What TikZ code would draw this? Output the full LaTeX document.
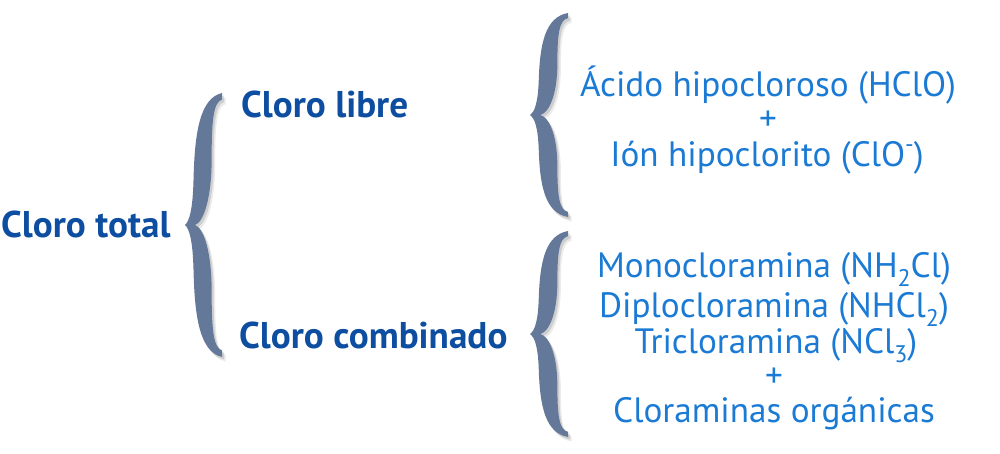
\documentclass[tikz,border=0pt]{standalone}
\usepackage{fontspec}
\setmainfont{PT Sans}
\definecolor{darkblue}{HTML}{0D4EA0}
\definecolor{lightblue}{HTML}{1A7AD4}
\definecolor{bracecol}{HTML}{64799A}
\newcommand\chemsub[1]{\raisebox{-0.26em}{\fontsize{24}{24}\selectfont #1}}
\newcommand\chemsup[1]{\raisebox{0.42em}{\fontsize{24}{24}\selectfont #1}}
\newcommand\bracehalf{(0,0) .. controls (0.12,-0.03) and (0.21,-0.12) .. (0.23,-0.34) .. controls (0.26,-0.7) and (0.4,-0.96) .. (1,-1) -- (1,-0.95) .. controls (0.77,-0.93) and (0.72,-0.8) .. (0.72,-0.5) .. controls (0.72,-0.2) and (0.5,-0.02) .. (0.27,0) -- cycle}
\newcommand\mybrace[4]{%
 \foreach \sy in {1,-1}{%
  \begin{scope}[shift={(#1+3.5,#2+4.5)},xscale=#3,yscale=\sy*#4]
   \fill[black,opacity=0.08] \bracehalf;
  \end{scope}
  \begin{scope}[shift={(#1+2,#2+2.5)},xscale=#3,yscale=\sy*#4]
   \fill[black,opacity=0.12] \bracehalf;
  \end{scope}
  \begin{scope}[shift={(#1,#2)},xscale=#3,yscale=\sy*#4]
   \fill[bracecol] \bracehalf;
  \end{scope}
 }}
\begin{document}
\begin{tikzpicture}[x=1pt,y=-1pt,
  biglabel/.style={font=\fontsize{37.2}{40}\selectfont\bfseries, text=darkblue, inner sep=0pt, anchor=base west},
  itemtext/.style={font=\fontsize{35.2}{36}\selectfont, text=lightblue, inner sep=0pt, anchor=base}]
\useasboundingbox (0,0) rectangle (1000,454);
\mybrace{185}{225}{37}{132}
\mybrace{530}{115}{38}{102}
\mybrace{530}{334}{38}{103}
\node[biglabel] (total) at (1,237) {Cloro total};
\node[biglabel] (libre) at (241,118) {Cloro libre};
\node[biglabel] (comb) at (239,348) {Cloro combinado};
\node[itemtext] (acido) at (768,97) {Ácido hipocloroso (HClO)};
\node[itemtext, anchor=center] (plus1) at (768,121) {+};
\node[itemtext] (ion) at (767,167) {Ión hipoclorito (ClO\chemsup{-})};
\node[itemtext] (mono) at (774,277) {Monocloramina (NH\chemsub{2}Cl)};
\node[itemtext] (diplo) at (774,317) {Diplocloramina (NHCl\chemsub{2})};
\node[itemtext] (tri) at (776,353) {Tricloramina (NCl\chemsub{3})};
\node[itemtext, anchor=center] (plus2) at (774,378) {+};
\node[itemtext] (org) at (774,422) {Cloraminas orgánicas};
\end{tikzpicture}
\end{document}
